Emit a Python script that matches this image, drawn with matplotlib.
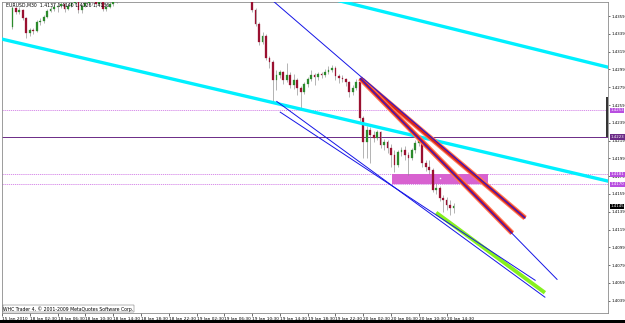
import numpy as np
import matplotlib
matplotlib.use('Agg')
import matplotlib.pyplot as plt
from matplotlib.patches import Rectangle

TITLE = 'EURUSD,M30  1.4137 1.4140 1.4126 1.4136'
COPYRIGHT = 'WHC Trader 4, \u00a9 2001-2009 MetaQuotes Software Corp.'

# M30 bars, bar 0 sits under the first time label
FIRST_BAR = 3
FIRST_OPEN = 1.4347
closes = [1.4368, 1.4364, 1.4366, 1.4357, 1.4340, 1.4343, 1.4342, 1.4352, 1.4353, 1.4358,
          1.4365, 1.4367, 1.4369, 1.4370, 1.4373, 1.4367, 1.4370, 1.4374, 1.4375, 1.4366,
          1.4370, 1.4374, 1.4380, 1.4375, 1.4373, 1.4377, 1.4367, 1.4369, 1.4373, 1.4375,
          1.4379, 1.4384, 1.4387, 1.4390, 1.4388, 1.4394, 1.4397, 1.4393, 1.4399, 1.4404,
          1.4402, 1.4407, 1.4411, 1.4406, 1.4408, 1.4414, 1.4412, 1.4416, 1.4420, 1.4415,
          1.4411, 1.4413, 1.4417, 1.4414, 1.4410, 1.4405, 1.4407, 1.4412, 1.4408, 1.4404,
          1.4406, 1.4402, 1.4398, 1.4401, 1.4396, 1.4393, 1.4395, 1.4390, 1.4386, 1.4366,
          1.4350, 1.4330, 1.4337, 1.4312, 1.4307, 1.4287, 1.4293, 1.4296, 1.4287, 1.4293,
          1.4281, 1.4287, 1.4278, 1.4274, 1.4283, 1.4288, 1.4293, 1.4290, 1.4294, 1.4293,
          1.4296, 1.4298, 1.4301, 1.4292, 1.4289, 1.4288, 1.4285, 1.4274, 1.4278, 1.4285,
          1.4244, 1.4217, 1.4231, 1.4225, 1.4222, 1.4229, 1.4214, 1.4217, 1.4211, 1.4203,
          1.4192, 1.4206, 1.4208, 1.4203, 1.4199, 1.4208, 1.4216, 1.4220, 1.4194, 1.4189,
          1.4186, 1.4163, 1.4166, 1.4154, 1.4152, 1.4147, 1.4143, 1.4145]
highs = [1.4370, 1.4369, 1.4369, 1.4367, 1.4358, 1.4346, 1.4346, 1.4355, 1.4357, 1.4360,
         1.4367, 1.4370, 1.4373, 1.4374, 1.4376, 1.4374, 1.4374, 1.4377, 1.4379, 1.4376,
         1.4373, 1.4378, 1.4386, 1.4383, 1.4377, 1.4381, 1.4378, 1.4373, 1.4375, 1.4378,
         1.4384, 1.4388, 1.4390, 1.4393, 1.4393, 1.4397, 1.4400, 1.4399, 1.4402, 1.4407,
         1.4406, 1.4410, 1.4415, 1.4413, 1.4411, 1.4417, 1.4416, 1.4419, 1.4424, 1.4422,
         1.4417, 1.4416, 1.4420, 1.4419, 1.4416, 1.4411, 1.4410, 1.4414, 1.4413, 1.4409,
         1.4409, 1.4407, 1.4404, 1.4403, 1.4402, 1.4398, 1.4397, 1.4396, 1.4391, 1.4388,
         1.4368, 1.4352, 1.4341, 1.4339, 1.4314, 1.4310, 1.4298, 1.4298, 1.4297, 1.4306,
         1.4296, 1.4294, 1.4289, 1.4280, 1.4285, 1.4290, 1.4298, 1.4295, 1.4296, 1.4296,
         1.4299, 1.4303, 1.4304, 1.4303, 1.4294, 1.4293, 1.4289, 1.4286, 1.4281, 1.4288,
         1.4287, 1.4247, 1.4235, 1.4234, 1.4230, 1.4231, 1.4230, 1.4221, 1.4220, 1.4215,
         1.4208, 1.4208, 1.4212, 1.4213, 1.4206, 1.4211, 1.4220, 1.4223, 1.4221, 1.4197,
         1.4197, 1.4188, 1.4171, 1.4168, 1.4158, 1.4156, 1.4152, 1.4149]
lows = [1.4344, 1.4361, 1.4361, 1.4355, 1.4334, 1.4337, 1.4339, 1.4341, 1.4349, 1.4351,
        1.4357, 1.4364, 1.4365, 1.4364, 1.4368, 1.4364, 1.4366, 1.4369, 1.4371, 1.4362,
        1.4362, 1.4369, 1.4373, 1.4371, 1.4369, 1.4373, 1.4365, 1.4365, 1.4368, 1.4370,
        1.4374, 1.4377, 1.4381, 1.4385, 1.4386, 1.4386, 1.4392, 1.4390, 1.4392, 1.4397,
        1.4399, 1.4400, 1.4405, 1.4403, 1.4404, 1.4406, 1.4409, 1.4410, 1.4414, 1.4412,
        1.4408, 1.4409, 1.4411, 1.4411, 1.4407, 1.4402, 1.4403, 1.4405, 1.4405, 1.4401,
        1.4402, 1.4399, 1.4395, 1.4396, 1.4393, 1.4390, 1.4391, 1.4387, 1.4382, 1.4364,
        1.4348, 1.4326, 1.4328, 1.4310, 1.4301, 1.4262, 1.4276, 1.4289, 1.4283, 1.4285,
        1.4278, 1.4277, 1.4270, 1.4256, 1.4271, 1.4279, 1.4286, 1.4281, 1.4287, 1.4289,
        1.4290, 1.4294, 1.4296, 1.4287, 1.4284, 1.4285, 1.4280, 1.4268, 1.4270, 1.4276,
        1.4241, 1.4199, 1.4199, 1.4194, 1.4217, 1.4220, 1.4211, 1.4208, 1.4205, 1.4189,
        1.4184, 1.4189, 1.4202, 1.4197, 1.4180, 1.4197, 1.4205, 1.4213, 1.4189, 1.4185,
        1.4181, 1.4161, 1.4159, 1.4151, 1.4139, 1.4141, 1.4135, 1.4138]

time_labels = ['15 Jan 2010', '18 Jan 02:30', '18 Jan 06:30', '18 Jan 10:30', '18 Jan 14:30',
               '18 Jan 18:30', '18 Jan 22:30', '19 Jan 02:30', '19 Jan 06:30', '19 Jan 10:30',
               '19 Jan 14:30', '19 Jan 18:30', '19 Jan 22:30', '20 Jan 02:30', '20 Jan 06:30',
               '20 Jan 10:30', '20 Jan 14:30']
BARS_PER_LABEL = 8
price_ticks = [1.4359, 1.4339, 1.4319, 1.4299, 1.4279, 1.4259, 1.4239, 1.4219, 1.4199,
               1.4179, 1.4159, 1.4139, 1.4119, 1.4099, 1.4079, 1.4059, 1.4039]

# objects drawn on the chart: (bar, price) anchors
cyan_lines = [[(-1, 1.4334), (175, 1.4173)],
              [(90, 1.4383), (175, 1.4301)]]
blue_lines = [[(70, 1.4403), (150.6, 1.4132)],
              [(103.1, 1.4289), (159.8, 1.4063)],
              [(79.1, 1.4263), (156.3, 1.4043)],
              [(80.1, 1.4251), (153.5, 1.4062)]]
red_bands = [[(103.7, 1.4287), (150.6, 1.4132)],
             [(103.1, 1.4289), (146.9, 1.4115)]]
green_band = [(125.0, 1.4138), (156.3, 1.4048)]
zone = (112.3, 139.9, 1.4170, 1.4181)
zone_dot = (126.1, 1.4177)
dotted_levels = [1.4253, 1.4181, 1.4170]
solid_level = 1.4223
scale_bar = (1.4268, 1.4223)

closes = np.array(closes)
highs = np.array(highs)
lows = np.array(lows)
opens = np.r_[FIRST_OPEN, closes[:-1]]
bars = np.arange(FIRST_BAR, FIRST_BAR + len(closes))

fig = plt.figure(figsize=(6.25, 3.23), dpi=100)
fig.patch.set_facecolor('white')
ax = fig.add_axes([2 / 625, 10 / 323, 606 / 625, 311 / 323])
ax.set_xlim(0.09, 174.47)
ax.set_ylim(1.40252, 1.43748)

# horizontal levels
for p in dotted_levels:
    ax.axhline(p, color='#d27ee6', lw=0.6, ls=(0, (1.5, 1)), zorder=1)
ax.axhline(solid_level, color='#6b2a86', lw=0.7, zorder=1)

ax.add_patch(Rectangle((zone[0], zone[2]), zone[1] - zone[0], zone[3] - zone[2],
                       facecolor='#d862d0', edgecolor='none', zorder=1))
ax.plot(*zone_dot, marker='s', ms=1.0, color='white', mew=0, zorder=2)

# candles
up = closes >= opens
ax.vlines(bars, lows, highs, color='#8a8a8a', lw=0.45, zorder=2)
ax.bar(bars[up], closes[up] - opens[up], bottom=opens[up], width=0.5,
       color='#2b8a2b', edgecolor='#2b8a2b', lw=0.2, zorder=3)
ax.bar(bars[~up], closes[~up] - opens[~up], bottom=opens[~up], width=0.5,
       color='#9a1030', edgecolor='#9a1030', lw=0.2, zorder=3)

# trend lines
for line in cyan_lines:
    (x0, y0), (x1, y1) = line
    ax.plot([x0, x1], [y0, y1], color='#00f0ff', lw=2.4, solid_capstyle='butt', zorder=4)
for line in red_bands:
    (x0, y0), (x1, y1) = line
    ax.plot([x0, x1], [y0, y1], color='#ff7b5c', lw=3.8, solid_capstyle='butt', zorder=5)
    ax.plot([x0, x1], [y0, y1], color='#d8261a', lw=2.2, solid_capstyle='butt', zorder=5)
(x0, y0), (x1, y1) = green_band
ax.plot([x0, x1], [y0, y1], color='#86f01e', lw=2.8, solid_capstyle='butt', zorder=5)
for line in blue_lines:
    (x0, y0), (x1, y1) = line
    ax.plot([x0, x1], [y0, y1], color='#1414e6', lw=0.7, zorder=6)

# axes look
for s in ax.spines.values():
    s.set_color('#8c8c8c')
    s.set_linewidth(0.6)
ax.yaxis.tick_right()
ax.set_yticks(price_ticks)
ax.set_yticklabels([f'{p:.4f}' for p in price_ticks])
ax.set_xticks(np.arange(len(time_labels)) * BARS_PER_LABEL)
ax.set_xticklabels(time_labels)
for lab in ax.get_xticklabels():
    lab.set_horizontalalignment('left')
ax.tick_params(axis='x', length=2, width=0.4, labelsize=3.1, pad=1, colors='black')
ax.tick_params(axis='y', length=1.5, width=0.4, labelsize=2.8, pad=0.8, colors='black')

# dark bar on the price scale edge
ax.plot([0.998, 0.998], scale_bar, transform=ax.get_yaxis_transform(),
        color='#303030', lw=1.4, solid_capstyle='butt', clip_on=False, zorder=7)


# level labels on the price scale
def level_tag(p, fc):
    ax.annotate(f'{p:.4f}', xy=(1, p), xycoords=('axes fraction', 'data'),
                xytext=(1.6, 0), textcoords='offset points', fontsize=2.8, color='white',
                va='center', annotation_clip=False, zorder=9,
                bbox=dict(boxstyle='square,pad=0.15', fc=fc, ec='none'))


for p in dotted_levels:
    level_tag(p, '#b84ee0')
level_tag(solid_level, '#6b2a86')
level_tag(closes[-1], 'black')

ax.text(0.006, 0.997, TITLE, transform=ax.transAxes, fontsize=3.3, va='top', ha='left')
ax.text(0.002, 0.004, COPYRIGHT, transform=ax.transAxes, fontsize=3.3, va='bottom', ha='left',
        bbox=dict(boxstyle='square,pad=0.15', fc='white', ec='#555555', lw=0.3), zorder=8)

fig.add_artist(Rectangle((0, 0), 1, 3 / 323, transform=fig.transFigure,
                         facecolor='black', edgecolor='none'))

fig.savefig('out.png', dpi=100)
